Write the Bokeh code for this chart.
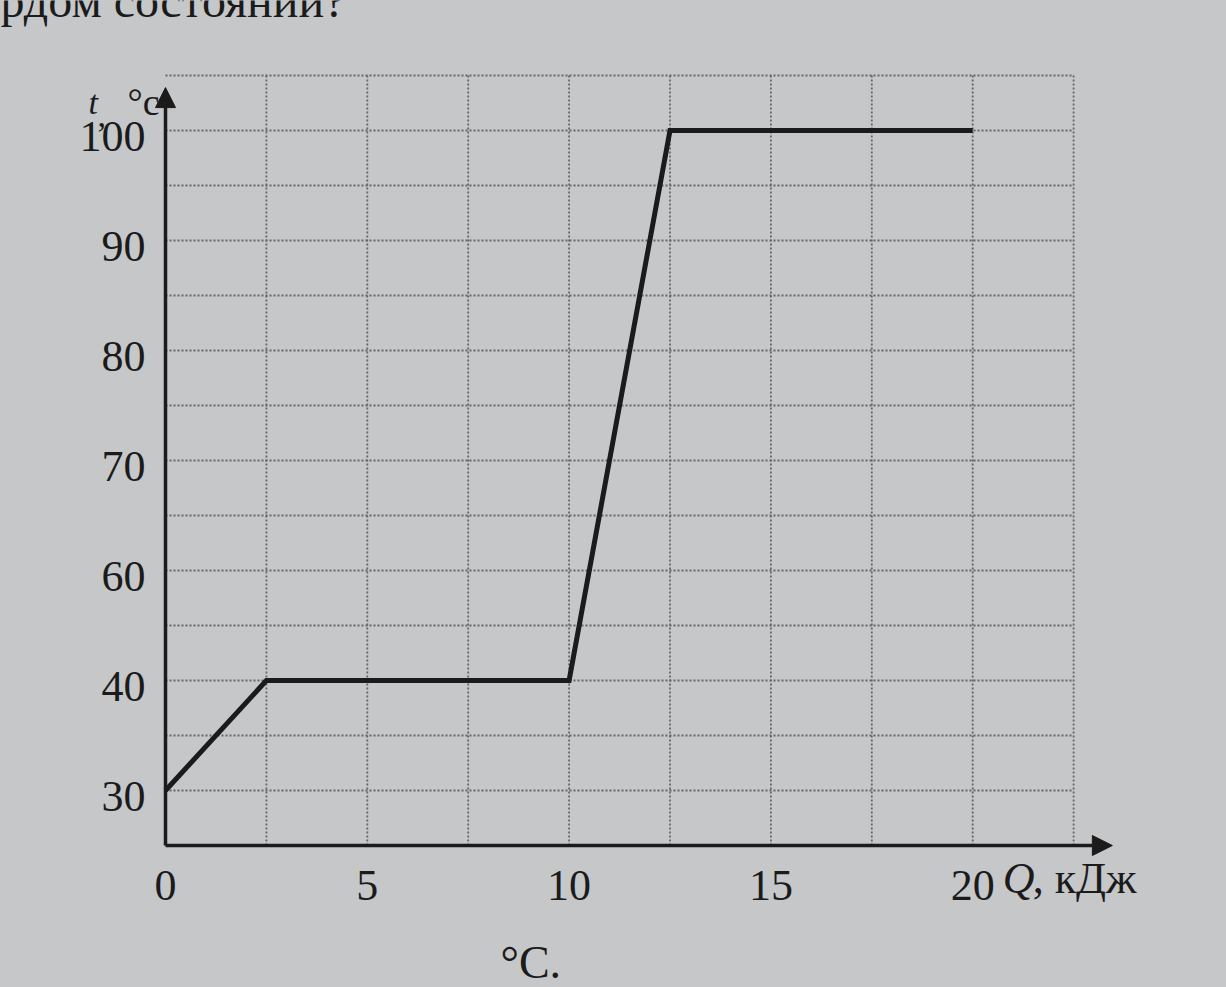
import numpy as np
from bokeh.plotting import figure
from bokeh.models import Range1d, Arrow, NormalHead
from bokeh.core.properties import value
from bokeh.embed import file_html
from bokeh.resources import INLINE

# ---- data ----
Q_KJ = [0, 2.5, 10, 12.5, 20]          # heat, kJ
T_C = [30, 40, 40, 100, 100]           # temperature, °C
Y_TICK_VALUES = [30, 40, 60, 70, 80, 90, 100]   # labels as printed (evenly spaced rows)
X_TICKS = [0, 5, 10, 15, 20]
GRID_STEP_X = 2.5
GRID_X_MAX = 22.5
GRID_STEP_Y = 0.5

BG = "#c6c7c9"
INK = "#1b1b1b"
GRID = "#666666"
SERIF = value("Liberation Serif")

W, H = 1226, 987
ORIGIN_PX = (165, 845)       # pixel position of the axes' corner
PX_PER_KJ = 40.36
PX_PER_ROW = 110.0

# printed temperature axis: tick i sits on grid row i
y_idx = list(range(len(Y_TICK_VALUES)))
y_pos = np.interp(T_C, Y_TICK_VALUES, y_idx)
y_bottom = y_idx[0] - 0.5
y_top = y_idx[-1] + 0.5

x0 = -ORIGIN_PX[0] / PX_PER_KJ
x1 = (W - ORIGIN_PX[0]) / PX_PER_KJ
y1 = y_bottom + ORIGIN_PX[1] / PX_PER_ROW
y0 = y_bottom - (H - ORIGIN_PX[1]) / PX_PER_ROW

p = figure(width=W, height=H, output_backend="svg", toolbar_location=None,
           x_range=Range1d(x0, x1), y_range=Range1d(y0, y1),
           min_border=0)
p.min_border_left = p.min_border_right = p.min_border_top = p.min_border_bottom = 0
p.background_fill_color = BG
p.border_fill_color = BG
p.outline_line_color = None
p.axis.visible = False
p.grid.visible = False

# dotted grid
gx = np.arange(GRID_STEP_X, GRID_X_MAX + 1e-9, GRID_STEP_X)
gy = np.arange(y_idx[0], y_top + 1e-9, GRID_STEP_Y)
p.segment(x0=gx, y0=[y_bottom] * len(gx), x1=gx, y1=[y_top] * len(gx),
          line_color=GRID, line_width=1.8, line_dash="2 2")
p.segment(x0=[0] * len(gy), y0=gy, x1=[GRID_X_MAX] * len(gy), y1=gy,
          line_color=GRID, line_width=1.8, line_dash="2 2")

# axes with arrows
p.add_layout(Arrow(end=NormalHead(size=20, fill_color=INK, line_color=INK),
                   x_start=0, y_start=y_bottom, x_end=23.46, y_end=y_bottom,
                   line_color=INK, line_width=3.5))
p.add_layout(Arrow(end=NormalHead(size=20, fill_color=INK, line_color=INK),
                   x_start=0, y_start=y_bottom, x_end=0, y_end=6.39,
                   line_color=INK, line_width=3.5))

# tick labels
p.text(x=X_TICKS, y=[y_bottom] * len(X_TICKS), text=[str(t) for t in X_TICKS],
       y_offset=40, text_align="center", text_baseline="middle",
       text_font=SERIF, text_font_size="44px", text_color=INK)
p.text(x=[0] * len(y_idx), y=y_idx, text=[str(v) for v in Y_TICK_VALUES],
       x_offset=-20, y_offset=6, text_align="right", text_baseline="middle",
       text_font=SERIF, text_font_size="44px", text_color=INK)

# data line
p.line(Q_KJ, y_pos, line_color=INK, line_width=5, line_join="miter")


def lab(text, x, y, dx, dy, size, style="normal"):
    p.text(x=[x], y=[y], text=[text], x_offset=dx, y_offset=dy,
           text_font=SERIF, text_font_size=size, text_font_style=style,
           text_color=INK, text_baseline="alphabetic", text_align="left")


# axis titles
lab("t", 0, y_top, -77, 27, "34px", "italic")
lab(",", 0, y_top, -68, 40, "34px")
lab("°c", 0, y_top, -38, 26, "38px")
lab("Q", 20, y_bottom, 30, 33, "44px", "italic")
lab(", кДж", 20, y_bottom, 60, 33, "44px")

# surrounding page text
lab("рдом состояний?", 0, y_top, -165, -75, "48px")
lab("°C.", 0, y_bottom, 335, 117, "46px")

html = file_html(p, INLINE)
html = html.replace("<head>", "<head><style>html,body{background:%s;}</style>" % BG, 1)
open("out.html", "w").write(html)
